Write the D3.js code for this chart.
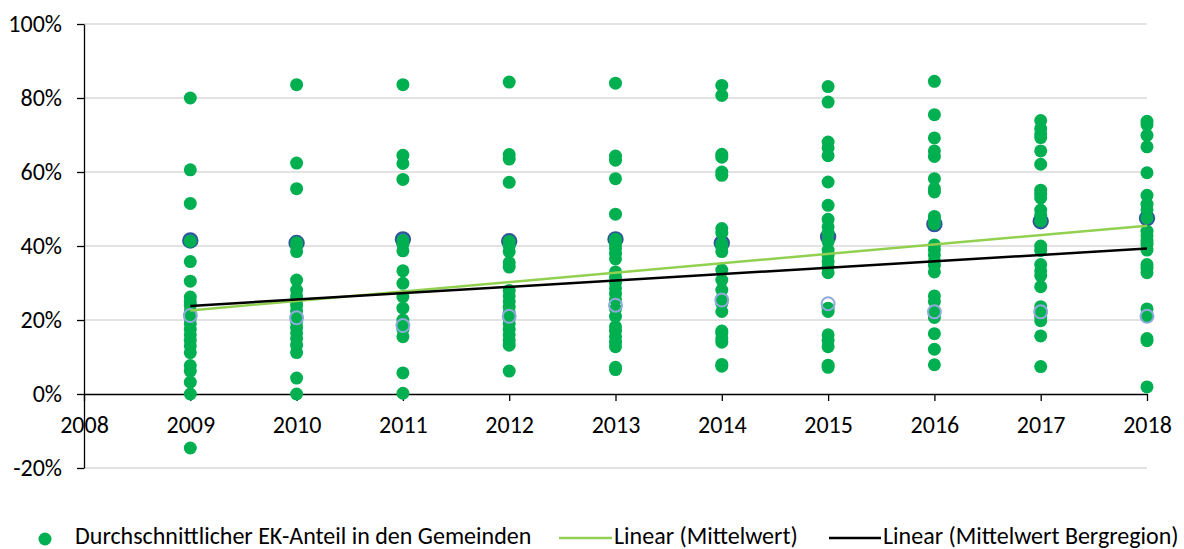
<!DOCTYPE html>
<html>
<head>
<meta charset="utf-8">
<script src="https://cdn.jsdelivr.net/npm/d3@7"></script>
<style>
  body { margin: 0; background: #fff; }
  svg text { font-family: Carlito, Lato, "Open Sans", sans-serif; fill: #000; }
</style>
</head>
<body>
<svg id="chart" width="1184" height="549"></svg>
<script>
// Jahre und Werte (EK-Anteil in %)
var years = [2009, 2010, 2011, 2012, 2013, 2014, 2015, 2016, 2017, 2018];

var werte2009 = [80, 60.6, 51.5, 41.3, 35.8, 30.5, 26.2, 25, 24, 22.5, 20.5, 19, 17.5, 16, 14.5, 13, 11.2, 7.7, 6.2, 3.2, 0, -14.6];
var werte2010 = [83.6, 62.4, 55.5, 40.9, 40, 38.5, 30.8, 28.1, 26.5, 25.5, 24, 22.5, 21, 19.5, 18, 16.5, 15, 13.2, 11.2, 4.3, 0];
var werte2011 = [83.6, 64.5, 62.3, 58, 41.5, 40.5, 38.7, 33.3, 29.9, 26.3, 23.2, 20, 18.8, 17.5, 15.5, 5.7, 0.2];
var werte2012 = [84.3, 64.7, 63.5, 57.2, 41.2, 40, 38.5, 35.5, 34.3, 28, 26.5, 25, 23.5, 22, 20.5, 19, 17.5, 16, 14.5, 13.2, 6.2];
var werte2013 = [84, 64.3, 63.2, 58.2, 48.6, 41.8, 40.5, 39.3, 38, 36.5, 33, 31.5, 30, 28.5, 27, 25.5, 23, 21, 18.2, 17, 15.5, 14, 12.8, 7.2, 6.6];
var werte2014 = [83.4, 80.7, 64.8, 64, 60, 59.1, 44.7, 43.5, 40.5, 39.8, 38.5, 33.5, 30.8, 28.1, 25.8, 24.5, 22.3, 17, 16.4, 15, 14, 8, 7.5];
var werte2015 = [83.1, 78.9, 68.1, 66.5, 64.4, 57.3, 51, 47.2, 45.2, 43.5, 41.2, 38.9, 37.5, 35.8, 34.4, 32.8, 23.2, 22.3, 16, 14.5, 12.8, 7.8, 7.2];
var werte2016 = [84.5, 75.5, 69.2, 65.7, 64.2, 58.2, 55.5, 54.6, 48, 47, 46, 40.3, 39, 37.6, 36, 34.8, 33, 26.5, 25, 22, 20.7, 16.3, 12.1, 7.9];
var werte2017 = [73.9, 71.7, 70.3, 69.3, 65.7, 62.1, 55.1, 54, 53, 49.7, 48.3, 46.8, 40, 38.8, 35, 33.3, 32, 29, 23.6, 22.3, 20.9, 19.8, 15.7, 7.4];
var werte2018 = [73.7, 72.8, 69.9, 66.8, 59.8, 53.7, 51.3, 49.8, 47.6, 44, 42.8, 41.5, 40.5, 38.9, 35, 34, 32.8, 23, 21, 15, 14.4, 1.9];

var gemeinden = [werte2009, werte2010, werte2011, werte2012, werte2013, werte2014, werte2015, werte2016, werte2017, werte2018];

// Mittelwerte (Marker, grösstenteils verdeckt)
var mittelwert = [41.5, 40.8, 41.8, 41.3, 41.8, 40.8, 42.5, 45.9, 46.7, 47.5];
var mittelwertBerg = [21.2, 20.6, 18.5, 21, 24, 25.4, 24.4, 22.2, 22.2, 21];

// Trendlinien: Anfang und Ende
var trendYears = [2009, 2018];
var trendMittelwert = [22.6, 45.5];
var trendBergregion = [23.8, 39.3];

var yTicks = [-20, 0, 20, 40, 60, 80, 100];
var xTicks = [2008, 2009, 2010, 2011, 2012, 2013, 2014, 2015, 2016, 2017, 2018];

var svg = d3.select("#chart");
var fontSize = 24;

var x = d3.scaleLinear().domain([2008, 2018]).range([84, 1147]);
var y = d3.scaleLinear().domain([-20, 100]).range([468, 24]);

// Gitternetzlinien
svg.append("g").selectAll("line")
  .data(yTicks.filter(function(d) { return d !== 0; }))
  .enter().append("line")
  .attr("x1", x(2008)).attr("x2", x(2018))
  .attr("y1", function(d) { return y(d); })
  .attr("y2", function(d) { return y(d); })
  .attr("stroke", "#d9d9d9")
  .attr("stroke-width", 1.5);

// Y-Achse
var yAxis = svg.append("g")
  .attr("transform", "translate(" + x(2008) + ",0)")
  .call(d3.axisLeft(y).tickValues(yTicks).tickSize(7).tickSizeOuter(0)
    .tickFormat(function(d) { return d + "%"; }));
yAxis.select(".domain").attr("stroke", "#000").attr("stroke-width", 1.3);
yAxis.selectAll(".tick line").attr("stroke", "#000").attr("stroke-width", 1.3);
yAxis.selectAll(".tick text")
  .attr("x", -22)
  .style("font-size", fontSize + "px")
  .attr("font-family", null);

// X-Achse auf der 0%-Linie
var xAxis = svg.append("g")
  .attr("transform", "translate(0," + y(0) + ")")
  .call(d3.axisBottom(x).tickValues(xTicks).tickSize(7).tickSizeOuter(0)
    .tickFormat(d3.format("d")));
xAxis.select(".domain").attr("stroke", "#000").attr("stroke-width", 1.3);
xAxis.selectAll(".tick line").attr("stroke", "#000").attr("stroke-width", 1.3);
xAxis.selectAll(".tick text")
  .attr("y", 22)
  .style("font-size", fontSize + "px")
  .attr("font-family", null);

// Mittelwert-Marker (unter den Punkten)
svg.append("g").selectAll("circle")
  .data(mittelwert)
  .enter().append("circle")
  .attr("cx", function(d, i) { return x(years[i]); })
  .attr("cy", function(d) { return y(d); })
  .attr("r", 7.2)
  .attr("fill", "#4472c4")
  .attr("stroke", "#2f5597")
  .attr("stroke-width", 2);

// Punkte der Gemeinden
var punkte = [];
gemeinden.forEach(function(werte, i) {
  werte.forEach(function(v) { punkte.push({ year: years[i], value: v }); });
});

svg.append("g").selectAll("circle")
  .data(punkte)
  .enter().append("circle")
  .attr("cx", function(d) { return x(d.year); })
  .attr("cy", function(d) { return y(d.value); })
  .attr("r", 6.5)
  .attr("fill", "#00b050");

// Mittelwert Bergregion als Ring über den Punkten
svg.append("g").selectAll("circle")
  .data(mittelwertBerg)
  .enter().append("circle")
  .attr("cx", function(d, i) { return x(years[i]); })
  .attr("cy", function(d) { return y(d); })
  .attr("r", 6.5)
  .attr("fill", "none")
  .attr("stroke", "#8faadc")
  .attr("stroke-width", 2);

// Trendlinien
var line = d3.line()
  .x(function(d) { return x(d[0]); })
  .y(function(d) { return y(d[1]); });

svg.append("path")
  .datum(d3.zip(trendYears, trendMittelwert))
  .attr("d", line)
  .attr("fill", "none")
  .attr("stroke", "#92d050")
  .attr("stroke-width", 2.5);

svg.append("path")
  .datum(d3.zip(trendYears, trendBergregion))
  .attr("d", line)
  .attr("fill", "none")
  .attr("stroke", "#000")
  .attr("stroke-width", 2.5);

// Legende
var legend = svg.append("g");
legend.append("circle")
  .attr("cx", 45).attr("cy", 539).attr("r", 6.5)
  .attr("fill", "#00b050");
legend.append("text")
  .attr("x", 75).attr("y", 543.5)
  .style("font-size", fontSize + "px")
  .text("Durchschnittlicher EK-Anteil in den Gemeinden");

legend.append("line")
  .attr("x1", 559).attr("x2", 612).attr("y1", 538).attr("y2", 538)
  .attr("stroke", "#92d050").attr("stroke-width", 2.5);
legend.append("text")
  .attr("x", 614).attr("y", 543.5)
  .style("font-size", fontSize + "px")
  .text("Linear (Mittelwert)");

legend.append("line")
  .attr("x1", 829).attr("x2", 881).attr("y1", 538).attr("y2", 538)
  .attr("stroke", "#000").attr("stroke-width", 2.5);
legend.append("text")
  .attr("x", 883).attr("y", 543.5)
  .style("font-size", fontSize + "px")
  .text("Linear (Mittelwert Bergregion)");
</script>
</body>
</html>
